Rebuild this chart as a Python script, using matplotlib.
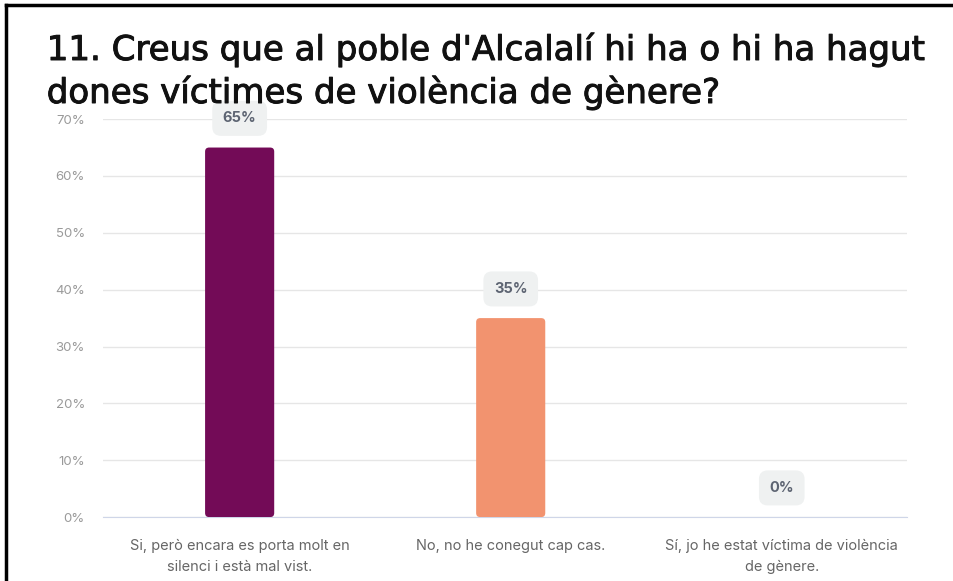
import numpy as np
import matplotlib.pyplot as plt
import matplotlib.patheffects as pe
from matplotlib.patches import FancyBboxPatch
from matplotlib.lines import Line2D

categories = [
    "Si, però encara es porta molt en\nsilenci i està mal vist.",
    "No, no he conegut cap cas.",
    "Sí, jo he estat víctima de violència\nde gènere.",
]
values = [65, 35, 0]
colors = ["#730b57", "#f2936f", "#f2936f"]
yticks = [0, 10, 20, 30, 40, 50, 60, 70]
title_lines = ["11. Creus que al poble d'Alcalalí hi ha o hi ha hagut",
               "dones víctimes de violència de gènere?"]

plt.rcParams["font.family"] = ["Inter", "DejaVu Sans"]

fig = plt.figure(figsize=(9.54, 5.81), dpi=100)
ax = fig.add_axes([0.108, 0.110, 0.843, 0.685])

x = np.arange(len(categories))
w = 0.255
bars = ax.bar(x, values, width=w, color=colors, zorder=3)
# swap in rounded-top bars
for b in bars:
    bx, by, bw, bh = b.get_x(), b.get_y(), b.get_width(), b.get_height()
    if bh > 0:
        p = FancyBboxPatch((bx, by), bw, bh, boxstyle="round,pad=0,rounding_size=0.015",
                           mutation_aspect=47, fc=b.get_facecolor(), ec="none", zorder=3)
        ax.add_patch(p)
    b.remove()

for xi, v in zip(x, values):
    ax.annotate(f"{v}%", (xi, v), xytext=(0, 21), textcoords="offset points",
                ha="center", va="center", fontsize=10.5, fontweight="bold", color="#5d6472",
                bbox=dict(boxstyle="round,pad=0.72,rounding_size=0.6", fc="#eff1f1", ec="none"),
                zorder=4)

ax.set_xlim(-0.504, 2.463)
ax.set_ylim(0, 70)
ax.set_yticks(yticks)
ax.set_yticklabels([f"{t}%" for t in yticks], fontsize=9.5, color="#9a9a9a")
ax.set_xticks(x)
ax.set_xticklabels(categories, fontsize=10.5, color="#666666", linespacing=1.6)
ax.tick_params(length=0)
ax.tick_params(axis="y", pad=13)
ax.tick_params(axis="x", pad=16)
ax.grid(axis="y", color="#e6e6e6", linewidth=1, zorder=0)
for s in ["top", "right", "left"]:
    ax.spines[s].set_visible(False)
ax.spines["bottom"].set_color("#cfd6e8")

for line, base in zip(title_lines, [60, 103]):
    fig.text(0.049, 1 - base / 581, line, fontsize=24.5, color="#111111",
             va="baseline", ha="left", family="DejaVu Sans",
             path_effects=[pe.withStroke(linewidth=0.7, foreground="#111111")])

# frame lines of the screenshot
fig.add_artist(Line2D([0.006, 1], [1 - 5 / 581, 1 - 5 / 581], color="black", lw=2.5))
fig.add_artist(Line2D([0.006, 0.006], [0, 1 - 5 / 581], color="black", lw=2.5))

fig.savefig("out.png", dpi=100)
